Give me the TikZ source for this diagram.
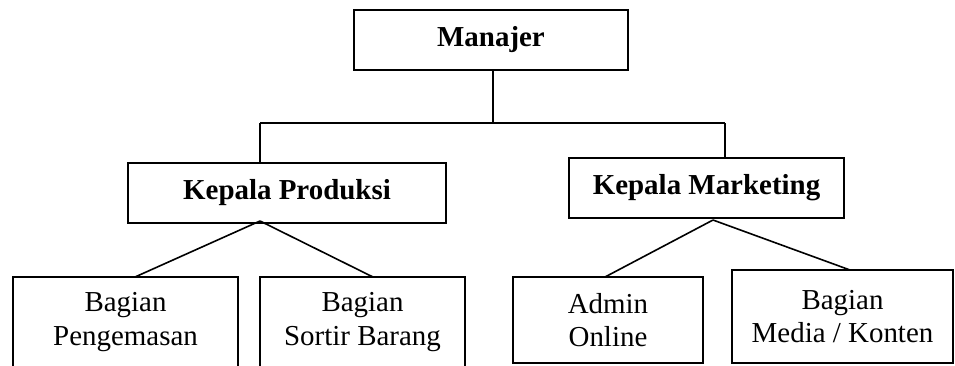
\documentclass[tikz,border=0pt]{standalone}
\usepackage{fontspec}
\setmainfont{Liberation Serif}
\begin{document}
\begin{tikzpicture}[x=0.75pt,y=-0.75pt,
  box/.style={draw, line width=1.1pt, inner sep=0pt, align=center,
    font=\fontsize{21.7}{25}\selectfont},
  bbox/.style={box, font=\fontsize{21.7}{25}\selectfont\bfseries},
  conn/.style={line width=1.2pt}]
\useasboundingbox (0,0) rectangle (955,365);
\clip (0,0) rectangle (955,365);
% nodes
\node[bbox, minimum width=205.5pt, minimum height=45pt] (man) at (491,40) {Manajer};
\node[bbox, minimum width=238.5pt, minimum height=45pt] (kp) at (287,193) {Kepala Produksi};
\node[bbox, minimum width=206.25pt, minimum height=45pt] (km) at (706.5,188) {Kepala Marketing};
\node[box, minimum width=168.75pt, minimum height=67.5pt] (peng) at (125.5,322) {Bagian\\Pengemasan};
\node[box, minimum width=153.75pt, minimum height=67.5pt] (sort) at (362.5,322) {Bagian\\Sortir Barang};
\node[box, minimum width=142.5pt, minimum height=64.5pt] (adm) at (608,320) {Admin\\Online};
\node[box, minimum width=165.75pt, minimum height=69.75pt] (med) at (842.5,316.5) {Bagian\\Media / Konten};
% junction coordinates
\coordinate (jm) at (493,123);
\coordinate (jl) at (260,123);
\coordinate (jr) at (725,123);
\coordinate (kpa) at (260,221);
\coordinate (kma) at (713,220);
\coordinate (pengt) at (135,277);
\coordinate (sortt) at (373,277);
\coordinate (admt) at (605,277);
\coordinate (medt) at (850,270);
% connectors
\draw[conn] (man.south -| jm) -- (jm);
\draw[conn] (jl) -- (jr);
\draw[conn] (jl) -- (kp.north -| jl);
\draw[conn] (jr) -- (km.north -| jr);
\draw[conn] (kpa) -- (pengt);
\draw[conn] (kpa) -- (sortt);
\draw[conn] (kma) -- (admt);
\draw[conn] (kma) -- (medt);
\end{tikzpicture}
\end{document}
